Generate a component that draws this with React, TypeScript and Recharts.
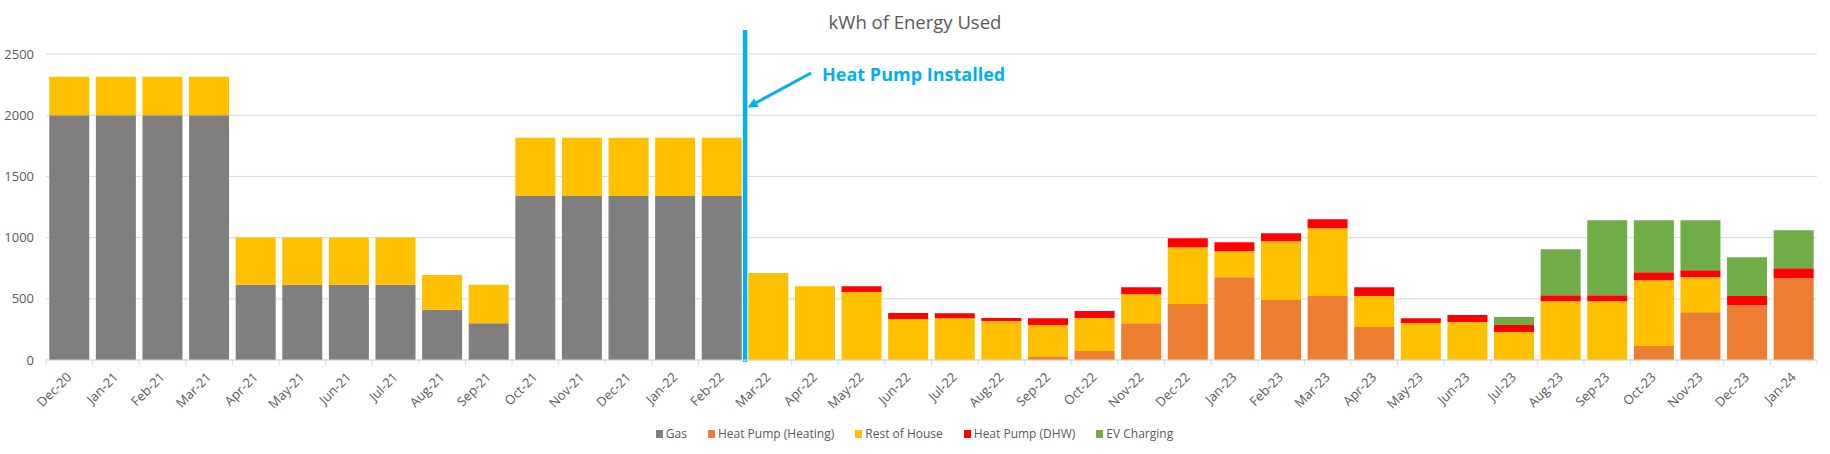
import React from "react";
import {
  BarChart,
  Bar,
  XAxis,
  YAxis,
  CartesianGrid,
  Legend,
  ReferenceLine,
} from "recharts";

// Months shown on the x axis
const months = [
  "Dec-20", "Jan-21", "Feb-21", "Mar-21", "Apr-21", "May-21", "Jun-21", "Jul-21",
  "Aug-21", "Sep-21", "Oct-21", "Nov-21", "Dec-21", "Jan-22", "Feb-22", "Mar-22",
  "Apr-22", "May-22", "Jun-22", "Jul-22", "Aug-22", "Sep-22", "Oct-22", "Nov-22",
  "Dec-22", "Jan-23", "Feb-23", "Mar-23", "Apr-23", "May-23", "Jun-23", "Jul-23",
  "Aug-23", "Sep-23", "Oct-23", "Nov-23", "Dec-23", "Jan-24",
];

// kWh per series
const gas = [
  2000, 2000, 2000, 2000, 615, 615, 615, 615, 410, 300, 1340, 1340, 1340, 1340, 1340,
  0, 0, 0, 0, 0, 0, 0, 0, 0, 0, 0, 0, 0, 0, 0, 0, 0, 0, 0, 0, 0, 0, 0,
];
const heating = [
  0, 0, 0, 0, 0, 0, 0, 0, 0, 0, 0, 0, 0, 0, 0,
  0, 0, 0, 0, 0, 0, 25, 73, 300, 457, 677, 490, 522, 270, 0, 0, 0, 0, 0, 114, 391, 448, 668,
];
const rest = [
  315, 315, 315, 315, 385, 385, 385, 385, 285, 315, 475, 475, 475, 475, 475,
  710, 603, 555, 335, 342, 318, 260, 270, 237, 465, 212, 480, 554, 252, 302, 310, 228, 481, 481, 538, 286, 0, 0,
];
const dhw = [
  0, 0, 0, 0, 0, 0, 0, 0, 0, 0, 0, 0, 0, 0, 0,
  0, 0, 48, 50, 40, 25, 57, 57, 57, 73, 73, 65, 73, 73, 40, 57, 57, 49, 49, 65, 57, 74, 82,
];
const ev = [
  0, 0, 0, 0, 0, 0, 0, 0, 0, 0, 0, 0, 0, 0, 0,
  0, 0, 0, 0, 0, 0, 0, 0, 0, 0, 0, 0, 0, 0, 0, 0, 66, 375, 611, 424, 407, 318, 310,
];

const yTicks = [0, 500, 1000, 1500, 2000, 2500];
const installMonth = "Mar-22";

const series = [
  { key: "gas", name: "Gas", color: "#7F7F7F" },
  { key: "heating", name: "Heat Pump (Heating)", color: "#ED7D31" },
  { key: "rest", name: "Rest of House", color: "#FFC000" },
  { key: "dhw", name: "Heat Pump (DHW)", color: "#FF0000" },
  { key: "ev", name: "EV Charging", color: "#70AD47" },
];

const data = months.map((month, i) => ({
  month,
  gas: gas[i],
  heating: heating[i],
  rest: rest[i],
  dhw: dhw[i],
  ev: ev[i],
}));

const FONT = '"Open Sans", "Liberation Sans", sans-serif';
const W = 1830;
const H = 454;
const MARGIN = { top: 54, right: 13, left: 6, bottom: 10 };
const Y_AXIS_W = 40;
const BAND = (W - MARGIN.left - Y_AXIS_W - MARGIN.right) / months.length;
const GREY = "#595959";
const LINE = "#D9D9D9";
const BLUE = "#00B0F0";

// x tick: Excel style tick marks between categories + rotated label
const MonthTick = (props: any) => {
  const { x, y, payload, index } = props;
  const half = BAND / 2;
  return (
    <g>
      <line x1={x - half} x2={x - half} y1={y} y2={y + 5} stroke={LINE} />
      {index === months.length - 1 && (
        <line x1={x + half} x2={x + half} y1={y} y2={y + 5} stroke={LINE} />
      )}
      <text
        transform={`translate(${x + 3},${y + 18}) rotate(-45)`}
        textAnchor="end"
        fontSize={13}
        fill={GREY}
        fontFamily={FONT}
      >
        {payload.value}
      </text>
    </g>
  );
};

// vertical marker + arrow + note
const InstallMarker = (props: any) => {
  const { x1, y1, y2 } = props;
  const top = Math.min(y1, y2);
  const bottom = Math.max(y1, y2);
  const x = x1;
  return (
    <g>
      <line x1={x} x2={x} y1={top - 24} y2={bottom + 2} stroke={BLUE} strokeWidth={4.5} />
      <line x1={x + 66} y1={top + 19} x2={x + 11} y2={top + 48.7} stroke={BLUE} strokeWidth={3} />
      <polygon
        points={`${x + 2.5},${top + 53.5} ${x + 13.6},${top + 53} ${x + 9},${top + 44.5}`}
        fill={BLUE}
      />
      <text
        x={x + 77}
        y={top + 26.5}
        fill={BLUE}
        fontWeight={700}
        fontSize={18}
        fontFamily={FONT}
      >
        Heat Pump Installed
      </text>
    </g>
  );
};

const LegendContent = () => (
  <div
    style={{
      display: "flex",
      justifyContent: "center",
      gap: 21,
      fontFamily: FONT,
      fontSize: 12,
      color: GREY,
      lineHeight: "20px",
      paddingLeft: 6,
    }}
  >
    {series.map((s) => (
      <span key={s.key} style={{ display: "flex", alignItems: "center" }}>
        <span style={{ width: 7, height: 8, background: s.color, marginRight: 3 }} />
        {s.name}
      </span>
    ))}
  </div>
);

export default function App() {
  return (
    <div style={{ position: "absolute", left: 0, top: 0, width: W, height: H, background: "#fff" }}>
      <div
        style={{
          position: "absolute",
          top: 9,
          left: 0,
          width: W,
          textAlign: "center",
          fontFamily: FONT,
          fontSize: 18.5,
          color: GREY,
        }}
      >
        kWh of Energy Used
      </div>
      <BarChart width={W} height={H} data={data} margin={MARGIN} barCategoryGap="7%">
        <CartesianGrid horizontal vertical={false} stroke={LINE} />
        <XAxis
          dataKey="month"
          interval={0}
          height={64}
          tickSize={0}
          tickMargin={0}
          tickLine={false}
          axisLine={{ stroke: LINE }}
          tick={<MonthTick />}
        />
        <YAxis
          width={Y_AXIS_W}
          domain={[0, 2500]}
          ticks={yTicks}
          axisLine={false}
          tickLine={false}
          tickSize={0}
          tickMargin={12}
          tick={{ fill: GREY, fontSize: 13, fontFamily: FONT }}
        />
        {series.map((s) => (
          <Bar
            key={s.key}
            dataKey={s.key}
            name={s.name}
            stackId="energy"
            fill={s.color}
            isAnimationActive={false}
          />
        ))}
        <ReferenceLine x={installMonth} position="start" shape={<InstallMarker />} />
        <Legend verticalAlign="bottom" content={<LegendContent />} />
      </BarChart>
    </div>
  );
}
